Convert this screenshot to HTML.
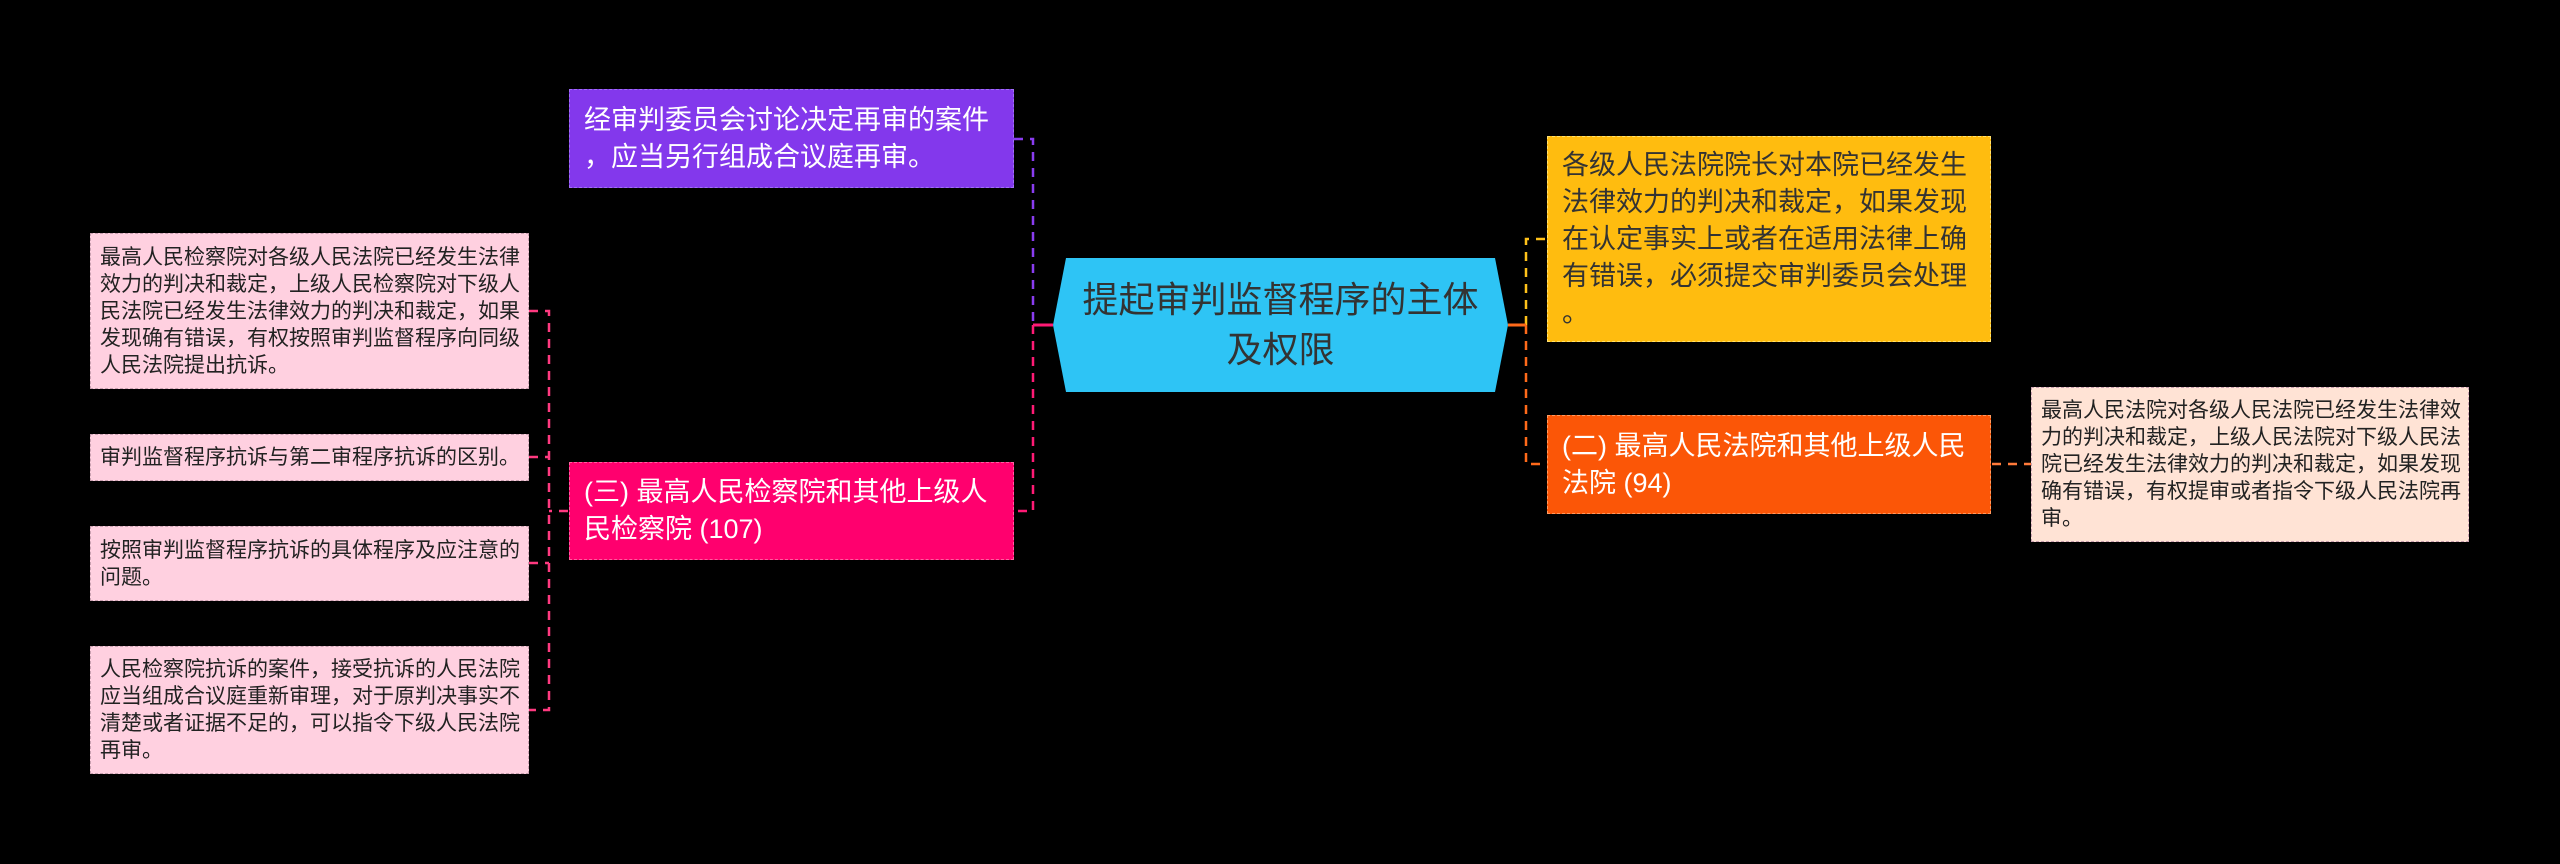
<!DOCTYPE html>
<html><head><meta charset="utf-8"><style>
html,body{margin:0;padding:0;background:#000;}
body{width:2560px;height:864px;position:relative;overflow:hidden;font-family:"Liberation Sans","Noto Sans CJK SC",sans-serif;}
.b{position:absolute;box-sizing:border-box;display:flex;align-items:center;}
.b span{display:block;}
.lf{background:#ffd0e0;border:1.5px dashed #c9a0b0;color:#222;font-size:21px;line-height:27px;padding:0 9px;white-space:nowrap;}
.mid{font-size:27px;line-height:37px;padding:0 14px;}
</style></head><body>
<svg width="2560" height="864" style="position:absolute;left:0;top:0">
<g fill="none" stroke-width="2.5" stroke-dasharray="9,7">
<path d="M1014 139 H1033 V325" stroke="#8a3cf0"/>
<path d="M1033 325 V511 H1014" stroke="#ff1a75"/>
<path d="M1526 325 V239 H1547" stroke="#ffc21a"/>
<path d="M1526 325 V464 H1547" stroke="#ff6a1a"/>
<path d="M1992 464 H2031" stroke="#ff7a3a"/>
<path d="M568 511 H549 M529 311 H549 V710 H529 M529 457 H549 M529 563 H549" stroke="#ff3a80"/>
</g>
<path d="M1033 325 H1053" stroke="#ff1a75" stroke-width="3"/>
<path d="M1508 325 H1526" stroke="#ff6a1a" stroke-width="3"/>
<polygon points="1053,325 1066,258 1495,258 1508,325 1495,392 1066,392" fill="#2ec4f5"/>
</svg>
<div class="b" style="left:1066px;top:258px;width:429px;height:134px;justify-content:center;text-align:center;color:#333;font-size:36px;line-height:50px;"><span>提起审判监督程序的主体<br>及权限</span></div>
<div class="b mid" style="left:569px;top:89px;width:445px;height:99px;background:#8338ec;border:1.5px dashed #a070f5;color:#fff;"><span>经审判委员会讨论决定再审的案件<br>，应当另行组成合议庭再审。</span></div>
<div class="b mid" style="left:569px;top:462px;width:445px;height:98px;background:#ff006e;border:1.5px dashed #ff60a0;color:#fff;"><span>(三) 最高人民检察院和其他上级人<br>民检察院 (107)</span></div>
<div class="b mid" style="left:1547px;top:136px;width:444px;height:206px;background:#ffbc0f;border:1.5px dashed #ffe070;color:#333;"><span>各级人民法院院长对本院已经发生<br>法律效力的判决和裁定，如果发现<br>在认定事实上或者在适用法律上确<br>有错误，必须提交审判委员会处理<br>。</span></div>
<div class="b mid" style="left:1547px;top:415px;width:444px;height:99px;background:#fb5607;border:1.5px dashed #ff9a60;color:#fff;"><span>(二) 最高人民法院和其他上级人民<br>法院 (94)</span></div>
<div class="b lf" style="left:2031px;top:387px;width:438px;height:155px;background:#ffe3d5;"><span>最高人民法院对各级人民法院已经发生法律效<br>力的判决和裁定，上级人民法院对下级人民法<br>院已经发生法律效力的判决和裁定，如果发现<br>确有错误，有权提审或者指令下级人民法院再<br>审。</span></div>
<div class="b lf" style="left:90px;top:233px;width:439px;height:156px;"><span>最高人民检察院对各级人民法院已经发生法律<br>效力的判决和裁定，上级人民检察院对下级人<br>民法院已经发生法律效力的判决和裁定，如果<br>发现确有错误，有权按照审判监督程序向同级<br>人民法院提出抗诉。</span></div>
<div class="b lf" style="left:90px;top:434px;width:439px;height:47px;"><span>审判监督程序抗诉与第二审程序抗诉的区别。</span></div>
<div class="b lf" style="left:90px;top:526px;width:439px;height:75px;"><span>按照审判监督程序抗诉的具体程序及应注意的<br>问题。</span></div>
<div class="b lf" style="left:90px;top:646px;width:439px;height:128px;"><span>人民检察院抗诉的案件，接受抗诉的人民法院<br>应当组成合议庭重新审理，对于原判决事实不<br>清楚或者证据不足的，可以指令下级人民法院<br>再审。</span></div>
</body></html>
